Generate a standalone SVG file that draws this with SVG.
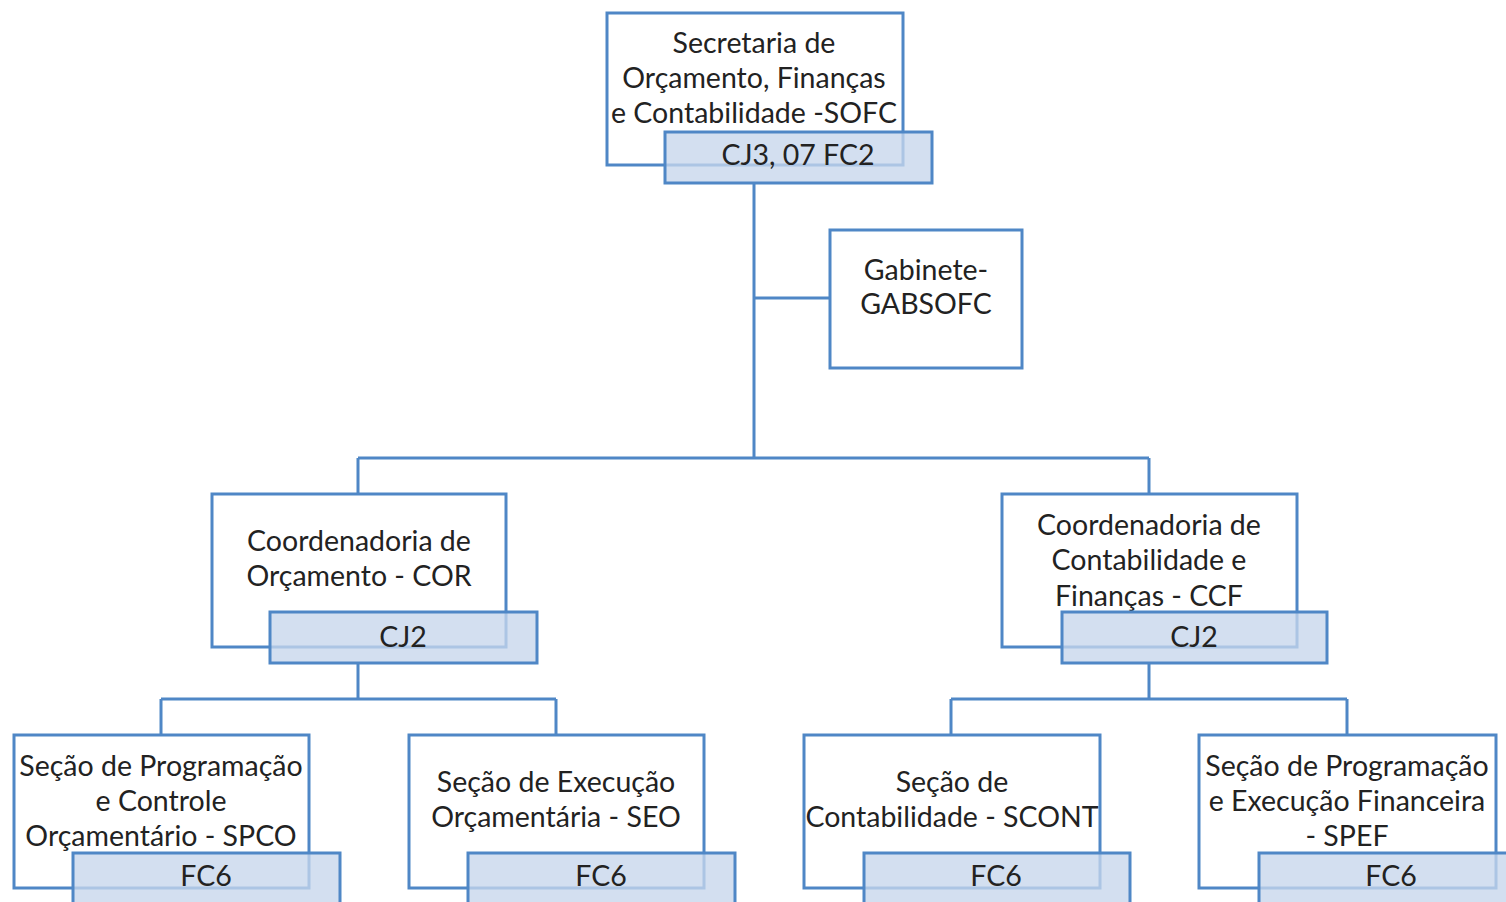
<svg xmlns="http://www.w3.org/2000/svg" width="1506" height="902" viewBox="0 0 1506 902">
<style>
.box{fill:#ffffff;stroke:#4f87c6;stroke-width:3}
.lab{fill:#c7d6ec;fill-opacity:0.78;stroke:#4f87c6;stroke-width:3}
.con{fill:none;stroke:#4f87c6;stroke-width:3}
text{font-family:Lato,"Liberation Sans",sans-serif;font-size:28.5px;fill:#222222;text-anchor:middle}
</style>
<rect width="1506" height="902" fill="#ffffff"/>
<g id="connectors">
<path class="con" d="M754 183 V458 M754 298 H830 M358 458 H1149 M358 458 V494 M1149 458 V494"/>
<path class="con" d="M358 663 V699 M161 699 H556 M161 699 V735 M556 699 V735"/>
<path class="con" d="M1149 663 V699 M951 699 H1347 M951 699 V735 M1347 699 V735"/>
</g>
<g id="sofc">
<rect class="box" x="607" y="13" width="296" height="152"/>
<text x="754" y="53">Secretaria de</text>
<text x="754" y="88">Orçamento, Finanças</text>
<text x="754" y="123">e Contabilidade -SOFC</text>
<rect class="lab" x="665" y="132" width="267" height="51"/>
<text x="798" y="165">CJ3, 07 FC2</text>
</g>
<g id="gabsofc">
<rect class="box" x="830" y="230" width="192" height="138"/>
<text x="926" y="280">Gabinete-</text>
<text x="926" y="314">GABSOFC</text>
</g>
<g id="cor">
<rect class="box" x="212" y="494" width="294" height="153"/>
<text x="359" y="551">Coordenadoria de</text>
<text x="359" y="586">Orçamento - COR</text>
<rect class="lab" x="270" y="612" width="267" height="51"/>
<text x="403" y="647">CJ2</text>
</g>
<g id="ccf">
<rect class="box" x="1002" y="494" width="295" height="153"/>
<text x="1149" y="535">Coordenadoria de</text>
<text x="1149" y="570">Contabilidade e</text>
<text x="1149" y="606">Finanças - CCF</text>
<rect class="lab" x="1062" y="612" width="265" height="51"/>
<text x="1194" y="647">CJ2</text>
</g>
<g id="spco">
<rect class="box" x="14" y="735" width="295" height="153"/>
<text x="161" y="776">Seção de Programação</text>
<text x="161" y="811">e Controle</text>
<text x="161" y="846">Orçamentário - SPCO</text>
<rect class="lab" x="73" y="853" width="267" height="60"/>
<text x="206" y="886">FC6</text>
</g>
<g id="seo">
<rect class="box" x="409" y="735" width="295" height="153"/>
<text x="556" y="792">Seção de Execução</text>
<text x="556" y="827">Orçamentária - SEO</text>
<rect class="lab" x="468" y="853" width="267" height="60"/>
<text x="601" y="886">FC6</text>
</g>
<g id="scont">
<rect class="box" x="804" y="735" width="296" height="153"/>
<text x="952" y="792">Seção de</text>
<text x="952" y="827">Contabilidade - SCONT</text>
<rect class="lab" x="864" y="853" width="266" height="60"/>
<text x="996" y="886">FC6</text>
</g>
<g id="spef">
<rect class="box" x="1199" y="735" width="297" height="153"/>
<text x="1347" y="776">Seção de Programação</text>
<text x="1347" y="811">e Execução Financeira</text>
<text x="1347" y="846">- SPEF</text>
<rect class="lab" x="1259" y="853" width="267" height="60"/>
<text x="1391" y="886">FC6</text>
</g>
</svg>
